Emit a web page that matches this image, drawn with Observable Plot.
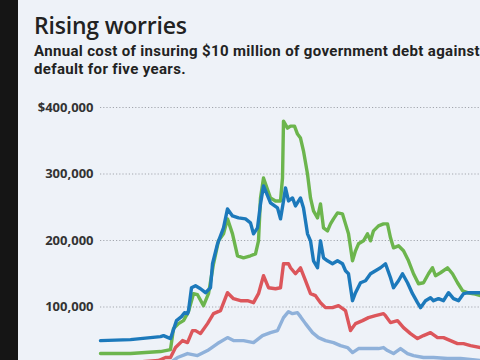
<!DOCTYPE html>
<html>
<head>
<meta charset="utf-8">
<script src="https://cdn.jsdelivr.net/npm/d3@7"></script>
<script src="https://cdn.jsdelivr.net/npm/@observablehq/plot@0.6"></script>
<style>
  html, body { margin: 0; padding: 0; width: 480px; height: 360px; overflow: hidden; background: #eef2f8; }
  #page { position: relative; width: 480px; height: 360px; border-left: 18px solid #151515; box-sizing: border-box; background: #eef2f8; }
  #title { position: absolute; left: 16px; top: 11px; font-family: "Open Sans", sans-serif; font-size: 23px; font-weight: 600; color: #222; white-space: nowrap; letter-spacing: -0.2px; line-height: 28px; }
  .sub { position: absolute; left: 16px; font-family: Roboto, sans-serif; font-size: 15px; font-weight: 700; color: #222; line-height: 18px; height: 18px; white-space: nowrap; }
  #chart { position: absolute; left: -18px; top: 85px; }
</style>
</head>
<body>
<div id="page">
<div id="title">Rising worries</div>
<div class="sub" id="sub1" style="top:42px">Annual cost of insuring $10 million of government debt against</div>
<div class="sub" id="sub2" style="top:60px">default for five years.</div>
<div id="chart"></div>
</div>
<script>
// time index (relative position along the period) and cost in thousands of dollars
const blueT = [0,30,60,63,70,76,81,84,87,88,91,95,100,105,110,112,117,123,127,132,138,145,150,153,157,160,163,170,177,180,183,185,188,192,195,200,203,207,210,213,217,220,223,227,232,237,242,245,248,252,255,260,265,270,275,280,285,290,293,298,302,307,312,317,320,325,330,333,338,343,348,353,358,363,368,373,380];
const blueV = [49.5,51,55.5,57,52.5,79.5,85.5,91.5,90,94.5,129,132,127.5,121.5,129,165,195,219,247.5,237,234,232.5,226.5,210,219,255,282,256.5,249,232.5,259.5,279,259.5,264,252,264,249,210,199.5,169.5,159,199.5,174,169.5,165,169.5,165,154.5,150,109.5,121.5,136.5,139.5,150,154.5,159,165,144,129,139.5,150,136.5,120,106.5,99,109.5,114,109.5,112.5,109.5,121.5,112.5,109.5,120,121.5,121.5,121.5];

const greenT = [0,30,60,70,73,78,83,88,93,97,103,108,113,118,123,127,132,137,143,150,155,158,160,163,170,175,180,182,183,187,190,194,197,200,203,207,210,213,217,220,223,227,230,233,237,242,245,248,252,255,258,263,267,270,273,278,283,287,290,293,298,303,308,313,318,323,328,332,335,340,347,352,357,362,367,373,380];
const greenV = [30,30,33,36,67.5,75,79.5,93,120,118.5,102,120,165,199.5,210,232.5,210,177,174,177,180,199.5,264,294,264,259.5,259.5,294,379.5,369,372,372,360,354,334.5,300,264,244.5,234,255,219,214.5,225,232.5,241.5,240,225,210,169.5,184.5,195,199.5,210,199.5,214.5,222,225,225,204,189,192,184.5,169.5,150,135,136.5,150,159,147,151.5,159,150,136.5,124.5,121.5,120,117];

const redT = [0,30,58,65,70,75,82,87,92,95,100,107,113,120,127,133,140,147,153,158,163,168,175,180,183,188,190,195,200,205,210,215,220,225,232,238,245,250,255,262,268,275,283,285,290,297,303,310,317,323,330,337,343,350,357,363,370,380];
const redV = [15,16.5,19.5,24,24,39,49.5,46.5,64.5,64.5,60,75,90,94.5,121.5,112.5,109.5,109.5,106.5,120,147,129,127.5,129,165,165,159,150,159,139.5,120,117,106.5,99,99,102,94.5,64.5,75,79.5,84,87,90,87,76.5,79.5,69,60,52.5,57,61.5,54,54,49.5,45,45,42,39];

const lightT = [0,40,70,77,87,97,107,117,127,133,143,153,162,170,177,183,188,192,197,200,205,212,218,225,233,240,247,252,258,268,278,283,287,293,300,307,313,323,333,347,360,380];
const lightV = [10.5,12,16.5,24,30,27,34.5,45,54,49.5,49.5,46.5,57,61.5,64.5,84,93,90,91.5,85.5,75,61.5,54,49.5,46.5,42,39,31.5,37.5,37.5,37.5,39,34.5,30,37.5,30,27,24,24,22.5,22.5,19.5];

const seriesNames = ["light", "red", "green", "blue"];
const seriesColors = ["#8fb1da", "#dc565b", "#6cb54d", "#1c79bb"];
const yTicks = [100000, 200000, 300000, 400000];
const yTickLabels = ["100,000", "200,000", "300,000", "$400,000"];

// fit subtitle line 1 to the reference width
(function fitSub() {
  const s1 = document.getElementById("sub1"), s2 = document.getElementById("sub2");
  const target = 446;
  const w = s1.getBoundingClientRect().width;
  const n = s1.textContent.length;
  const ls = (target - w) / n;
  s1.style.letterSpacing = ls + "px";
  s2.style.letterSpacing = ls + "px";
})();

const rows = [];
const add = (name, T, V) => T.forEach((t, i) => rows.push({name, t, v: V[i] * 1000}));
add("light", lightT, lightV);
add("red", redT, redV);
add("green", greenT, greenV);
add("blue", blueT, blueV);

const chart = Plot.plot({
  width: 480,
  height: 288,
  marginLeft: 100,
  marginRight: 0,
  marginTop: 22,
  marginBottom: 0,
  style: { background: "transparent", fontFamily: "'Open Sans', sans-serif", overflow: "visible" },
  x: { domain: [0, 380], axis: null },
  y: { domain: [0, 400000], axis: null },
  color: { domain: seriesNames, range: seriesColors },
  marks: [
    Plot.ruleY(yTicks, { x1: 0, x2: 380, stroke: "#a3a7ae", strokeWidth: 1.2, strokeDasharray: "1.2,2" }),
    Plot.text(yTicks, { x: 0, y: d => d, text: (d, i) => yTickLabels[i], textAnchor: "end", dx: -7, fontSize: 13, fontWeight: 700, fill: "#333", letterSpacing: -0.3 }),
    Plot.line(rows, { x: "t", y: "v", z: "name", stroke: "name", strokeWidth: 3.4, curve: "linear", strokeLinejoin: "round" })
  ]
});
document.getElementById("chart").appendChild(chart);
</script>
</body>
</html>
